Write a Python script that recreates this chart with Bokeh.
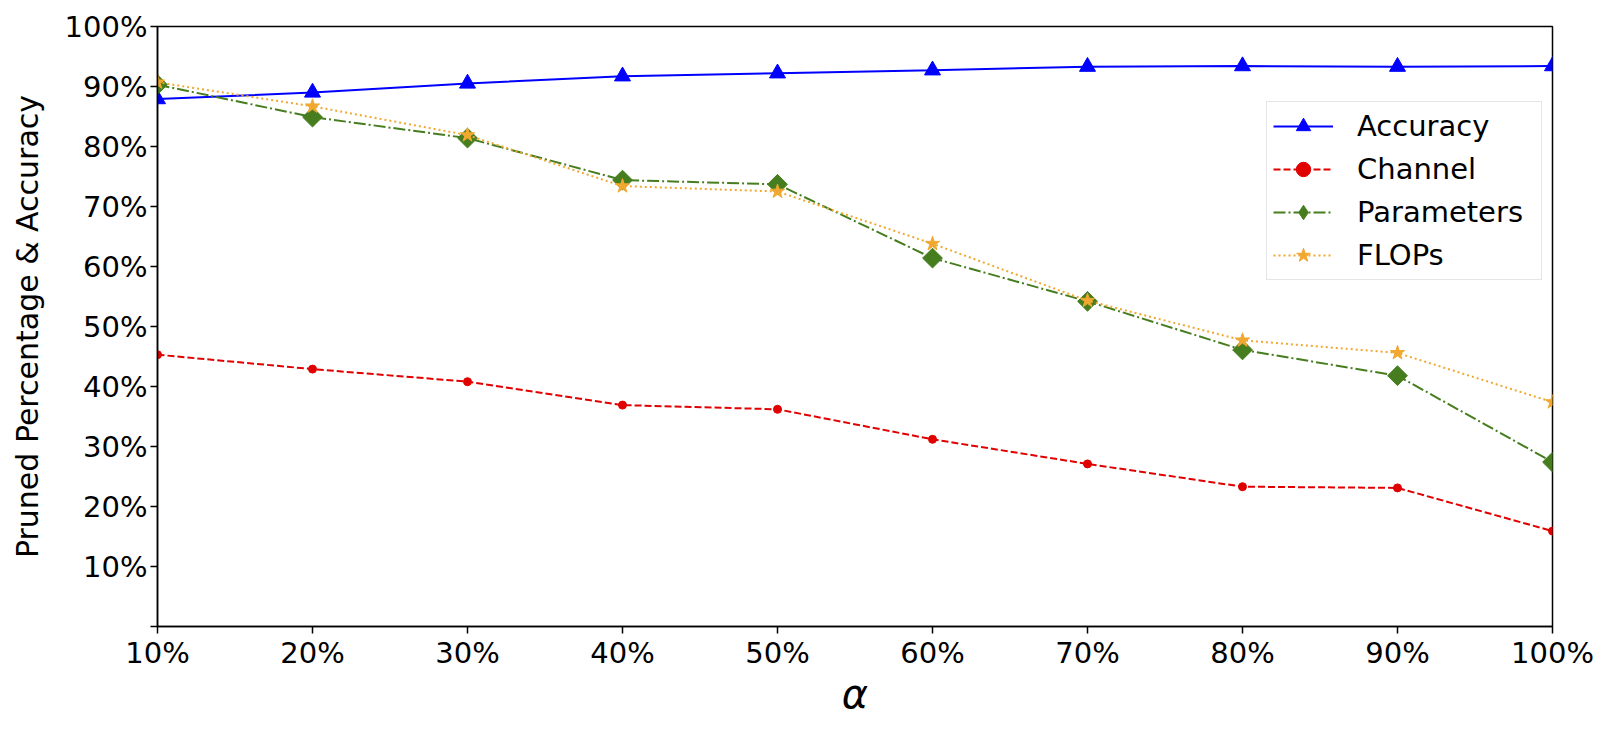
import math
from bokeh.plotting import figure
from bokeh.models import FixedTicker, Legend, LegendItem
from bokeh.embed import file_html
from bokeh.resources import INLINE

alpha = [10, 20, 30, 40, 50, 60, 70, 80, 90, 100]
alpha_labels = ["10%", "20%", "30%", "40%", "50%", "60%", "70%", "80%", "90%", "100%"]
y_ticks = [0, 10, 20, 30, 40, 50, 60, 70, 80, 90, 100]
y_labels = ["", "10%", "20%", "30%", "40%", "50%", "60%", "70%", "80%", "90%", "100%"]

accuracy = [87.9, 89.0, 90.5, 91.7, 92.2, 92.7, 93.3, 93.4, 93.3, 93.4]
channel = [45.3, 42.9, 40.8, 36.9, 36.2, 31.2, 27.1, 23.3, 23.1, 15.9]
parameters = [90.3, 84.9, 81.4, 74.4, 73.7, 61.4, 54.2, 46.1, 41.8, 27.4]
flops = [90.7, 86.7, 81.9, 73.4, 72.5, 63.8, 54.3, 47.7, 45.6, 37.4]

FONT = "DejaVu Sans"

p = figure(width=1596, height=719, x_range=(10, 100), y_range=(0, 100),
           output_backend="svg", toolbar_location=None,
           min_border_left=157, min_border_right=44, min_border_top=26, min_border_bottom=93)
p.xgrid.visible = False
p.ygrid.visible = False
p.outline_line_color = "black"
p.outline_line_width = 1.5
p.background_fill_color = "white"
p.border_fill_color = "white"

p.xaxis.ticker = FixedTicker(ticks=alpha)
p.xaxis.major_label_overrides = {a: l for a, l in zip(alpha, alpha_labels)}
p.yaxis.ticker = FixedTicker(ticks=y_ticks)
p.yaxis.major_label_overrides = {a: l for a, l in zip(y_ticks, y_labels)}
for ax in (p.xaxis, p.yaxis):
    ax.minor_tick_line_color = None
    ax.major_tick_in = 0
    ax.major_tick_out = 7
    ax.major_tick_line_width = 1.5
    ax.axis_line_width = 1.5
    ax.axis_line_color = "black"
    ax.major_label_text_font = FONT
    ax.major_label_text_font_size = "29px"
    ax.major_label_text_color = "black"
    ax.axis_label_text_font = FONT
    ax.axis_label_text_color = "black"
p.yaxis.major_label_standoff = 3
p.xaxis.major_label_standoff = 2
p.yaxis.axis_label = "Pruned Percentage & Accuracy"
p.yaxis.axis_label_text_font_size = "30px"
p.yaxis.axis_label_text_font_style = "normal"
p.yaxis.axis_label_standoff = 17
p.xaxis.axis_label = "α"
p.xaxis.axis_label_text_font_size = "40px"
p.xaxis.axis_label_text_font_style = "italic"
p.xaxis.axis_label_standoff = -2

blue = "#0000ff"
red = "#e00000"
green = "#467d1f"
orange = "#f0a830"

l1 = p.line(alpha, accuracy, line_color=blue, line_width=2)
m1 = p.scatter(alpha, accuracy, marker="triangle", size=16, fill_color=blue, line_color=blue)
l2 = p.line(alpha, channel, line_color=red, line_width=2, line_dash="7 3")
m2 = p.scatter(alpha, channel, marker="circle", size=8, fill_color=red, line_color=red)
l3 = p.line(alpha, parameters, line_color=green, line_width=2, line_dash="12 3 2 3")
m3 = p.scatter(alpha, parameters, marker="square", size=14, angle=math.pi / 4,
               fill_color=green, line_color=green)
# legend-only sample of the diamond marker (a single NaN point, never drawn in the plot)
m3_key = p.scatter(x=[math.nan], y=[math.nan], marker="diamond", size=14,
                   fill_color=green, line_color=green)
l4 = p.line(alpha, flops, line_color=orange, line_width=2, line_dash="2 3")
m4 = p.scatter(alpha, flops, marker="star", size=15, fill_color=orange, line_color=orange)

legend = Legend(items=[
    LegendItem(label="Accuracy", renderers=[l1, m1]),
    LegendItem(label="Channel", renderers=[l2, m2]),
    LegendItem(label="Parameters", renderers=[l3, m3_key]),
    LegendItem(label="FLOPs", renderers=[l4, m4]),
], location=(1109, 346))
legend.label_text_font = FONT
legend.label_text_font_size = "29px"
legend.label_text_color = "black"
legend.glyph_width = 60
legend.glyph_height = 36
legend.label_height = 36
legend.label_width = 178
legend.spacing = 7
legend.padding = 6
legend.margin = 0
legend.label_standoff = 24
legend.border_line_color = "#cccccc"
legend.border_line_width = 1.5
legend.background_fill_alpha = 0.8
p.add_layout(legend, "center")

open("out.html", "w").write(file_html(p, INLINE))
